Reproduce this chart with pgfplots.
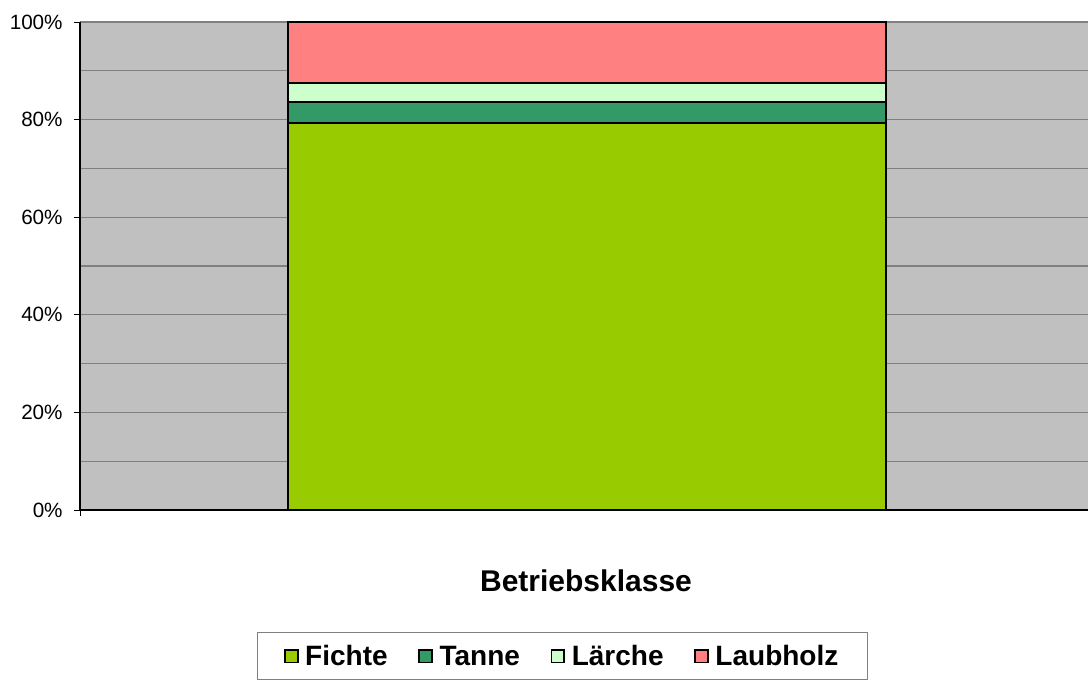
\documentclass[border=0pt]{standalone}
\usepackage{fontspec}
\setmainfont{Liberation Sans}
\usepackage{pgfplots}
\pgfplotsset{compat=1.18}
\definecolor{fichte}{HTML}{99CC00}
\definecolor{tanne}{HTML}{339966}
\definecolor{laerche}{HTML}{CCFFCC}
\definecolor{laubholz}{HTML}{FF8080}
\definecolor{bgray}{HTML}{C0C0C0}
\definecolor{gridgray}{HTML}{808080}
\begin{document}
\begin{tikzpicture}
\path[use as bounding box] (-60pt,-126.75pt) rectangle (756pt,382.5pt);
\begin{axis}[
  at={(0pt,0pt)}, anchor=south west,
  scale only axis, width=756pt, height=366pt,
  clip=false,
  xmin=-0.848, xmax=0.838, ymin=0, ymax=100,
  ybar stacked, bar width=1,
  axis background/.style={fill=bgray},
  axis x line*=bottom, axis y line*=left,
  axis line style={black, line width=0.9pt, -},
  ytick={0,20,...,100},
  minor ytick={10,30,50,70,90},
  ymajorgrids, yminorgrids,
  major grid style={draw=gridgray, line width=0.9pt},
  minor grid style={draw=gridgray, line width=0.9pt},
  minor tick length=0pt,
  major tick length=4.5pt,
  tick align=outside,
  tick style={black, line width=0.6pt},
  xtick={-0.848}, xticklabels={},
  yticklabel={\pgfmathprintnumber{\tick}\%},
  yticklabel style={font=\fontsize{15.5}{18}\selectfont, xshift=-5pt},
  /pgf/number format/assume math mode=true,
  legend columns=4,
  legend style={at={(0.4787,-0.25)}, anchor=north, draw=gridgray, line width=0.6pt,
    font=\bfseries\fontsize{21}{25}\selectfont,
    inner xsep=20pt, inner ysep=8pt,
    nodes={text height=15pt, text depth=0.5pt},
    /tikz/every even column/.append style={column sep=21pt}},
  every axis plot post/.append style={
    legend image code/.code={\draw[##1, line width=1.3pt, draw=black] (0pt,-4.8pt) rectangle (9.6pt,4.8pt); \path (12.5pt,0pt);}},
]
\addplot[fill=fichte, draw=black, line width=1.5pt] coordinates {(0,79.4)};
\addplot[fill=tanne, draw=black, line width=1.5pt] coordinates {(0,4.2)};
\addplot[fill=laerche, draw=black, line width=1.5pt] coordinates {(0,3.9)};
\addplot[fill=laubholz, draw=black, line width=1.5pt] coordinates {(0,12.5)};
\legend{Fichte, Tanne, Lärche, Laubholz}
\node[font=\bfseries\fontsize{22.5}{27}\selectfont] at (rel axis cs:0.502,-0.1455) {Betriebsklasse};
\end{axis}
\end{tikzpicture}
\end{document}
